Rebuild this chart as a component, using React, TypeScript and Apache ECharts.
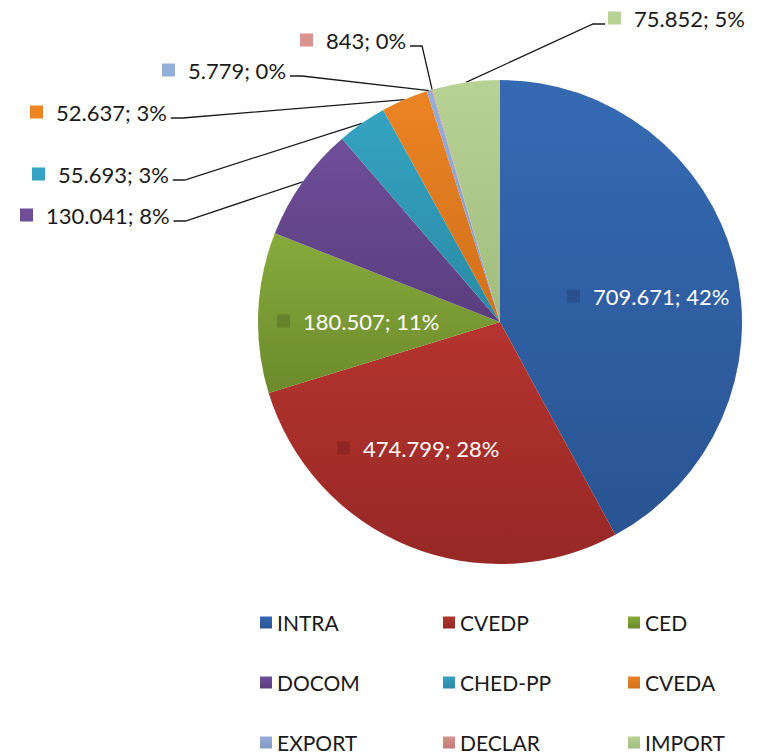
import React, { useEffect, useRef } from 'react';
import * as echarts from 'echarts';

const categories = ['INTRA', 'CVEDP', 'CED', 'DOCOM', 'CHED-PP', 'CVEDA', 'EXPORT', 'DECLAR', 'IMPORT'];
const values = [709671, 474799, 180507, 130041, 55693, 52637, 5779, 843, 75852];
const insideLabel = [true, true, true, false, false, false, false, false, false];

// [top, bottom, key-square on slice]
const palette: string[][] = [
  ['#356AB3', '#2A5491', '#28508C'],
  ['#B5342F', '#962826', '#8E2624'],
  ['#88AA3C', '#6C8A2C', '#66822A'],
  ['#6E4E99', '#5A3E7E', '#5A3E7E'],
  ['#35A3C2', '#2A8AA4', '#2A8AA4'],
  ['#EB8424', '#D0701B', '#D0701B'],
  ['#94AEDA', '#8399C4', '#8399C4'],
  ['#D99290', '#C47A78', '#C47A78'],
  ['#B8D195', '#A2BC7E', '#A2BC7E'],
];

// label anchor (left edge, vertical middle) in px
const labelAnchors: number[][] = [
  [567, 296], [337, 448], [277, 321],
  [20, 215], [32, 174], [30, 112], [162, 70], [300, 40], [608, 18],
];

const FONT = 'Lato, "Open Sans", sans-serif';

function fmt(n: number): string {
  return String(n).replace(/\B(?=(\d{3})+(?!\d))/g, '.');
}

export default function App() {
  const ref = useRef<HTMLDivElement>(null);
  useEffect(() => {
    const chart = echarts.init(ref.current!, null, { renderer: 'svg' });
    const data = categories.map((name, i) => ({
      name,
      value: values[i],
      itemStyle: {
        color: new echarts.graphic.LinearGradient(0, 0, 0, 1, [
          { offset: 0, color: palette[i][0] },
          { offset: 1, color: palette[i][1] },
        ]),
      },
      label: {
        show: true,
        position: insideLabel[i] ? 'inside' : 'outside',
        formatter: (p: any) => `{sq|}{gap|}{t|${fmt(values[i])}; ${Math.round(p.percent)}%}`,
        rich: {
          sq: { width: 13, height: 13, backgroundColor: insideLabel[i] ? palette[i][2] : palette[i][0] },
          gap: { width: 13, height: 13 },
          t: {
            fontSize: 22,
            fontFamily: FONT,
            color: insideLabel[i] ? '#ffffff' : '#1a1a1a',
            lineHeight: 24,
          },
        },
      },
      labelLine: { show: !insideLabel[i] },
    }));

    const option: any = {
      animation: false,
      backgroundColor: '#ffffff',
      legend: [0, 1, 2].map((c) => ({
        orient: 'vertical',
        left: [260, 443, 628][c],
        top: 612,
        width: 160,
        height: 300,
        padding: 0,
        data: categories.filter((_, i) => i % 3 === c),
        icon: 'rect',
        itemWidth: 12,
        itemHeight: 12,
        itemGap: 39,
        selectedMode: false,
        textStyle: { fontSize: 21, fontFamily: FONT, color: '#1a1a1a', lineHeight: 16 },
      })),
      series: [
        {
          type: 'pie',
          center: [500, 322],
          radius: 242,
          startAngle: 90,
          clockwise: true,
          percentPrecision: 0,
          avoidLabelOverlap: false,
          itemStyle: { borderWidth: 0 },
          labelLine: { lineStyle: { color: '#1a1a1a', width: 1.3 }, length: 10, length2: 10 },
          emphasis: { disabled: true },
          data,
          labelLayout: (params: any) => {
            const i = params.dataIndex;
            const [x, y] = labelAnchors[i];
            const res: any = { x, y, align: 'left', verticalAlign: 'middle' };
            if (!insideLabel[i] && params.labelLinePoints && params.labelLinePoints[0]) {
              const start = params.labelLinePoints[0];
              const w = params.labelRect ? params.labelRect.width : 100;
              const ly = y + 6;
              if (start[0] > x) {
                const ex = x + w + 4;
                res.labelLinePoints = [start, [ex + 12, ly], [ex, ly]];
              } else {
                const ex = x - 3;
                res.labelLinePoints = [start, [ex - 12, ly], [ex, ly]];
              }
            }
            return res;
          },
        },
      ],
    };
    chart.setOption(option);
    return () => chart.dispose();
  }, []);
  return (
    <div
      ref={ref}
      style={{ position: 'fixed', left: 0, top: 0, width: 761, height: 755 }}
    />
  );
}
